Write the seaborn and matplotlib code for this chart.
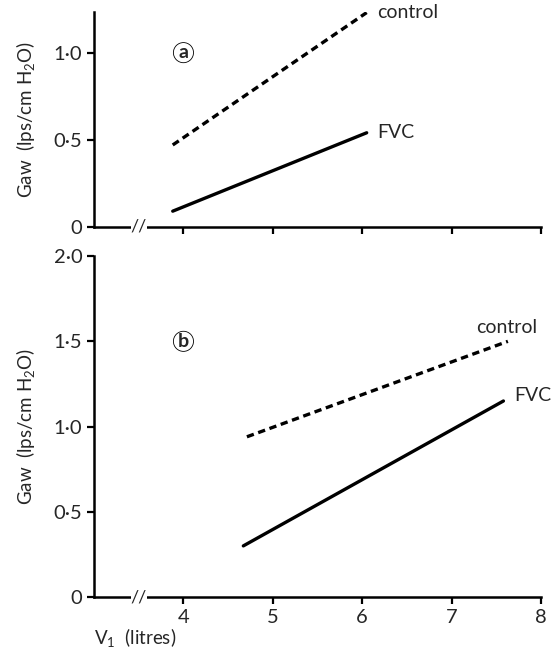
import matplotlib
matplotlib.use("Agg")
import matplotlib.pyplot as plt
import pandas as pd
import seaborn as sns

sns.set_theme(style="ticks")
plt.rcParams["font.family"] = ["Lato", "DejaVu Sans"]
plt.rcParams["mathtext.fontset"] = "custom"
plt.rcParams["mathtext.rm"] = "Lato"
plt.rcParams["mathtext.it"] = "Lato"

# panel a
vol_a = [3.88, 6.05]
control_a = [0.47, 1.23]
fvc_a = [0.09, 0.54]

# panel b
vol_b_control = [4.71, 7.63]
control_b = [0.94, 1.50]
vol_b_fvc = [4.67, 7.58]
fvc_b = [0.30, 1.15]

x_ticks = [4, 5, 6, 7, 8]
x_tick_labels = ["4", "5", "6", "7", "8"]
y_ticks_a = [0, 0.5, 1.0]
y_labels_a = ["0", "0·5", "1·0"]
y_ticks_b = [0, 0.5, 1.0, 1.5, 2.0]
y_labels_b = ["0", "0·5", "1·0", "1·5", "2·0"]

ylabel = "Gaw  (lps/cm H$_2$O)"

df_a = pd.DataFrame({"vol": vol_a * 2, "gaw": control_a + fvc_a,
                     "group": ["control"] * 2 + ["FVC"] * 2})
df_b = pd.DataFrame({"vol": vol_b_control + vol_b_fvc, "gaw": control_b + fvc_b,
                     "group": ["control"] * 2 + ["FVC"] * 2})

fig = plt.figure(figsize=(5.6, 6.5), dpi=100)
ax_a = fig.add_axes([0.168, 0.651, 0.798, 0.331])
ax_b = fig.add_axes([0.168, 0.0815, 0.798, 0.5245])

styles = {"control": (0, (2.2, 1.4)), "FVC": "-"}


def draw_panel(ax, df, ylim, yticks, ylabels, letter, letter_y, label_off, show_xlabels):
    for grp, sub in df.groupby("group"):
        sns.lineplot(data=sub, x="vol", y="gaw", ax=ax, color="black",
                     linewidth=2.4, linestyle=styles[grp], legend=False)
        dx, dy = label_off[grp]
        ax.text(sub["vol"].iloc[-1] + dx, sub["gaw"].iloc[-1] + dy, grp,
                fontsize=14, va="center", ha="left")
    ax.set_xlim(3, 8)
    ax.set_ylim(*ylim)
    ax.set_xticks(x_ticks)
    ax.set_xticklabels(x_tick_labels if show_xlabels else [])
    ax.set_yticks(yticks)
    ax.set_yticklabels(ylabels)
    ax.tick_params(axis="both", direction="out", length=5, width=1.6,
                   labelsize=14.5, color="black")
    sns.despine(ax=ax)
    for s in ["left", "bottom"]:
        ax.spines[s].set_linewidth(1.8)
        ax.spines[s].set_color("black")
    ax.set_ylabel(ylabel, fontsize=13.5, labelpad=12)
    ax.set_xlabel("")
    # axis break
    ax.text(3.5, 0, "//", fontsize=13, ha="center", va="center",
            transform=ax.get_xaxis_transform(),
            bbox=dict(facecolor="white", edgecolor="none", pad=0))
    ax.text(4.0, letter_y, letter, fontsize=14, fontweight="bold", ha="center", va="center",
            bbox=dict(boxstyle="circle,pad=0.08", facecolor="white", edgecolor="black", linewidth=0.6))


draw_panel(ax_a, df_a, (0, 1.235), y_ticks_a, y_labels_a, "a", 1.0,
           {"control": (0.12, 0.0), "FVC": (0.12, 0.0)}, False)
draw_panel(ax_b, df_b, (0, 2.0), y_ticks_b, y_labels_b, "b", 1.5,
           {"control": (-0.35, 0.08), "FVC": (0.12, 0.03)}, True)

ax_b.set_xlabel("V$_1$  (litres)", fontsize=13.5, loc="left", labelpad=0)

fig.savefig("out.png", dpi=100)
